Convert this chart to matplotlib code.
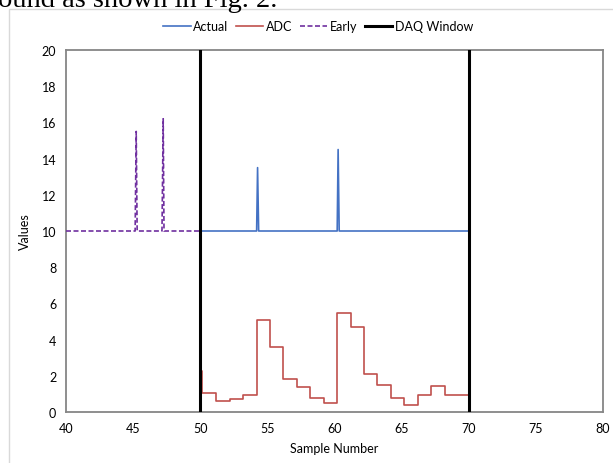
import numpy as np
import matplotlib
matplotlib.use("Agg")
import matplotlib.pyplot as plt
from matplotlib.patches import Rectangle

# Actual signal (inside DAQ window)
actual_x = [50, 54.2, 54.27, 54.35, 60.2, 60.27, 60.35, 70]
actual_y = [10, 10, 13.5, 10, 10, 14.5, 10, 10]

# Early signal (before DAQ window)
early_x = [40, 45.15, 45.23, 45.3, 47.15, 47.24, 47.3, 50]
early_y = [10, 10, 15.5, 10, 10, 16.2, 10, 10]

# ADC sample-and-hold output: step edges and held levels
adc_edges = [50.0, 50.15, 51.2, 52.2, 53.2, 54.2, 55.2, 56.2, 57.2, 58.2, 59.2,
             60.2, 61.2, 62.2, 63.2, 64.2, 65.2, 66.2, 67.2, 68.2, 70.1]
adc_levels = [2.25, 1.03, 0.63, 0.72, 0.94, 5.08, 3.59, 1.84, 1.40, 0.77, 0.51,
              5.49, 4.68, 2.10, 1.51, 0.76, 0.39, 0.94, 1.42, 0.94]

daq_window = [50, 70]

x_ticks = list(range(40, 81, 5))
y_ticks = list(range(0, 21, 2))

plt.rcParams["font.family"] = ["Lato", "DejaVu Sans"]

fig = plt.figure(figsize=(6.13, 4.64), dpi=100)

# chart area border like the Excel export
fig.patches.append(Rectangle((9 / 613, -0.1), 1.2, 1 - 9.5 / 464 + 0.1,
                             transform=fig.transFigure, fill=False,
                             edgecolor="#d9d9d9", linewidth=1.0))

# clipped caption text from the page above
fig.text(-0.003, 1 - 7 / 464, "ound as shown in Fig. 2.", family="Liberation Serif",
         fontsize=20.5, va="baseline", ha="left")

ax = fig.add_axes([66 / 613, 1 - 413 / 464, (603 - 66) / 613, (413 - 51) / 464])

# ADC steps
step_x = adc_edges
step_y = adc_levels + [adc_levels[-1]]
ax.step(step_x, step_y, where="post", color="#C0504D", linewidth=1.2, label="ADC", zorder=3)

ax.plot(actual_x, actual_y, color="#4472C4", linewidth=1.2, label="Actual", zorder=3)
ax.plot(early_x, early_y, color="#7030A0", linewidth=1.2, linestyle=(0, (3, 1.5)),
        label="Early", zorder=3)

for i, xv in enumerate(daq_window):
    ax.axvline(xv, color="black", linewidth=2.2, zorder=4,
               label="DAQ Window" if i == 0 else None)

ax.set_xlim(40, 80)
ax.set_ylim(0, 20)
ax.set_xticks(x_ticks)
ax.set_yticks(y_ticks)
ax.tick_params(length=0, labelsize=9, pad=7)
for s in ax.spines.values():
    s.set_color("#868686")
    s.set_linewidth(1.3)

ax.set_xlabel("Sample Number", fontsize=9, labelpad=6)
ax.set_ylabel("Values", fontsize=9, labelpad=8)

handles, labels = ax.get_legend_handles_labels()
order = [labels.index(n) for n in ["Actual", "ADC", "Early", "DAQ Window"]]
fig.legend([handles[i] for i in order], [labels[i] for i in order],
           loc="center", bbox_to_anchor=(318 / 613, 1 - 27 / 464), ncol=4,
           frameon=False, fontsize=9, handlelength=2.2, handletextpad=0.2,
           columnspacing=0.6)

fig.savefig("out.png", dpi=100)
